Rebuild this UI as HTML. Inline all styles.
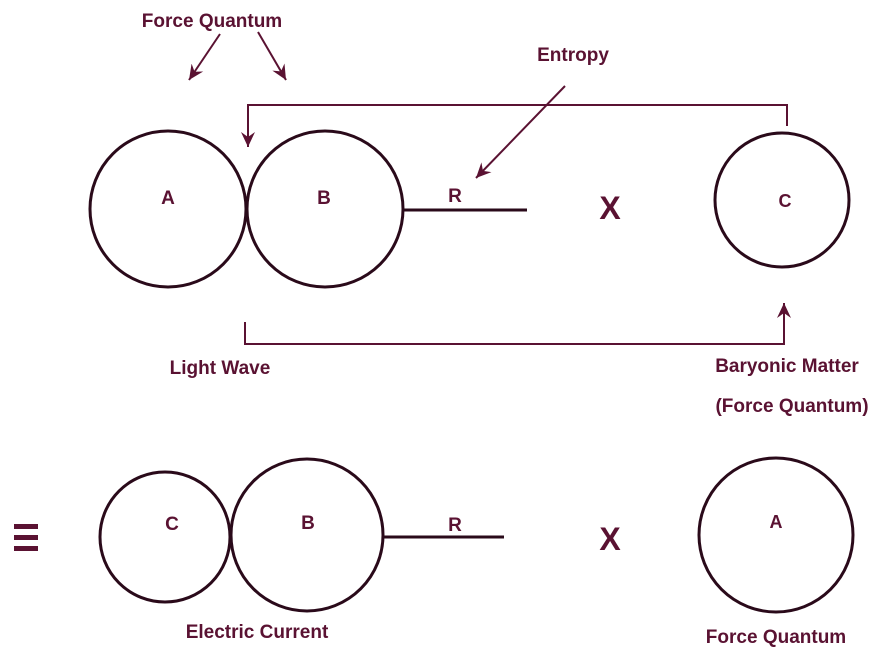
<!DOCTYPE html>
<html><head><style>
html,body{margin:0;padding:0;background:#fff;}
svg{display:block;}
text{font-family:"Liberation Sans",sans-serif;font-weight:bold;fill:#5a1232;}
</style></head><body>
<svg width="889" height="653" viewBox="0 0 889 653" xmlns="http://www.w3.org/2000/svg">
<defs>
<marker id="ah" markerWidth="18" markerHeight="16" refX="15" refY="8" orient="auto" markerUnits="userSpaceOnUse">
<path d="M0,1 L15,8 L0,15 L5,8 Z" fill="#5a1232"/>
</marker>
</defs>
<g fill="none" stroke="#2a0a1a" stroke-width="3">
<circle cx="168" cy="209" r="78"/>
<circle cx="325" cy="209" r="78"/>
<circle cx="782" cy="200" r="67"/>
<line x1="402" y1="210" x2="527" y2="210"/>
<circle cx="165" cy="537" r="65"/>
<circle cx="307" cy="535" r="76"/>
<circle cx="776" cy="535" r="77"/>
<line x1="382" y1="537" x2="504" y2="537"/>
</g>
<g fill="none" stroke="#5a1232" stroke-width="2">
<polyline points="787,126 787,105 248,105 248,147" marker-end="url(#ah)"/>
<polyline points="245,322 245,344 784,344 784,303" marker-end="url(#ah)"/>
<line x1="565" y1="86" x2="476" y2="178" marker-end="url(#ah)"/>
<line x1="220" y1="34" x2="189" y2="80" marker-end="url(#ah)"/>
<line x1="258" y1="32" x2="286" y2="80" marker-end="url(#ah)"/>
</g>
<text x="212" y="27" font-size="19" text-anchor="middle">Force Quantum</text>
<text x="573" y="61" font-size="19" text-anchor="middle">Entropy</text>
<text x="168" y="204" font-size="19" text-anchor="middle">A</text>
<text x="324" y="204" font-size="19" text-anchor="middle">B</text>
<text x="455" y="202" font-size="19" text-anchor="middle">R</text>
<text x="610" y="219" font-size="32" text-anchor="middle">X</text>
<text x="785" y="207" font-size="18" text-anchor="middle">C</text>
<text x="220" y="374" font-size="19" text-anchor="middle">Light Wave</text>
<text x="787" y="372" font-size="19" text-anchor="middle">Baryonic Matter</text>
<text x="792" y="412" font-size="19" text-anchor="middle">(Force Quantum)</text>
<rect x="14" y="524" width="24" height="5" fill="#5a1232"/>
<rect x="14" y="535" width="24" height="5" fill="#5a1232"/>
<rect x="14" y="546" width="24" height="5" fill="#5a1232"/>
<text x="172" y="530" font-size="19" text-anchor="middle">C</text>
<text x="308" y="529" font-size="19" text-anchor="middle">B</text>
<text x="455" y="531" font-size="19" text-anchor="middle">R</text>
<text x="610" y="550" font-size="32" text-anchor="middle">X</text>
<text x="776" y="528" font-size="18" text-anchor="middle">A</text>
<text x="257" y="638" font-size="19" text-anchor="middle">Electric Current</text>
<text x="776" y="643" font-size="19" text-anchor="middle">Force Quantum</text>
</svg>
</body></html>
